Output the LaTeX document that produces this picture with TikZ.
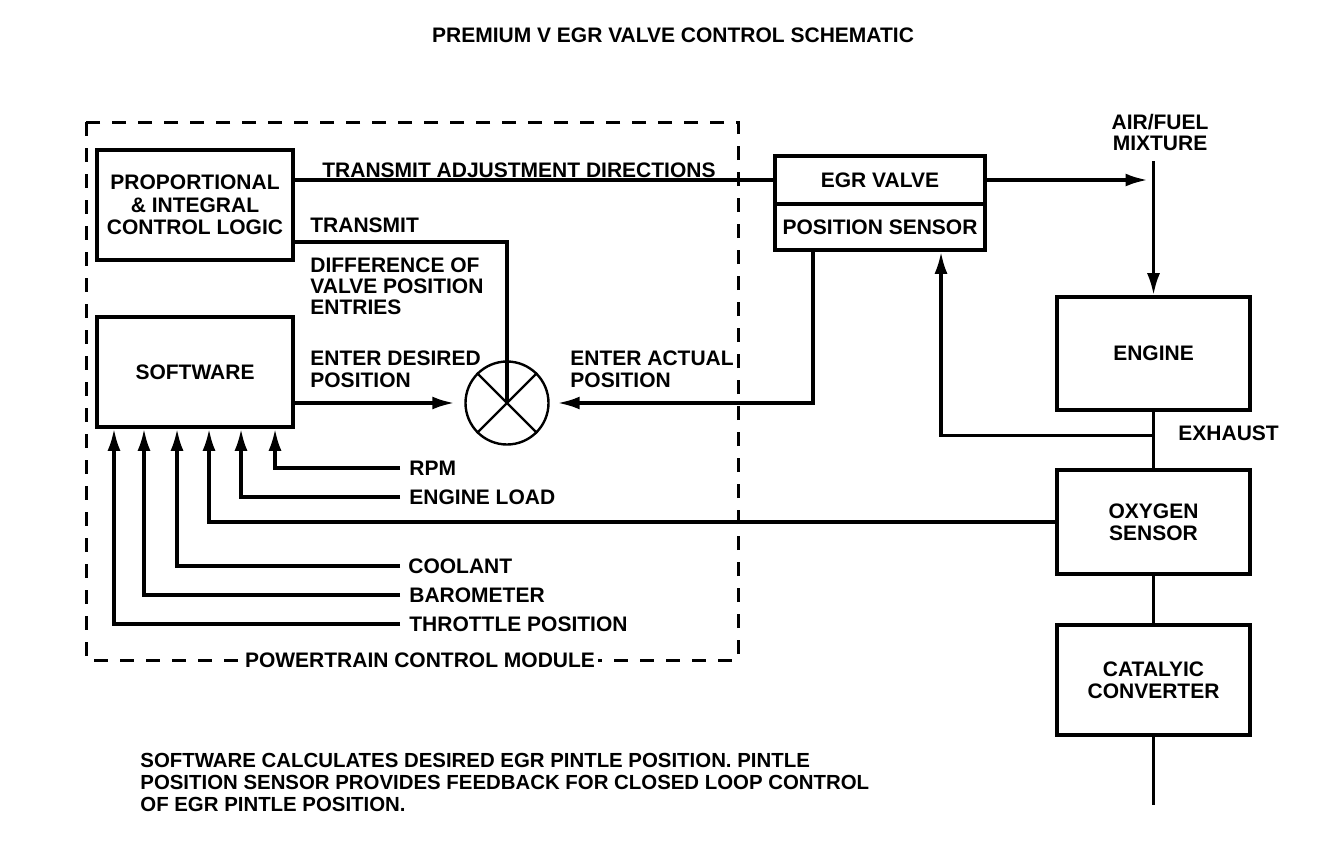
\documentclass[tikz,border=0pt]{standalone}
\usepackage{fontspec}
\setmainfont{Liberation Sans}
\usetikzlibrary{arrows.meta,calc}
\begin{document}
\begin{tikzpicture}[x=0.5pt,y=-0.5pt,
  font=\fontsize{10.5}{10.5}\selectfont\bfseries,
  box/.style={draw,line width=1.8pt,inner sep=0pt,align=center,font=\fontsize{10.5}{11.2}\selectfont\bfseries},
  wire/.style={line width=1.6pt},
  arr/.style={wire,-{Latex[length=11pt,width=6.5pt]}},
  lbl/.style={inner sep=0pt,anchor=north west,align=left,font=\fontsize{10.5}{10.5}\selectfont\bfseries},
  side/.style={inner sep=0pt,anchor=west},
  pcm/.style={draw,line width=1.5pt,dash pattern=on 7pt off 6pt}]
\fill[white] (0,0) rectangle (1344,842);

\node (title) at (673,35) {PREMIUM V EGR VALVE CONTROL SCHEMATIC};

% powertrain control module boundary
\draw[pcm] (86,122) rectangle (738,660);
\node[fill=white,inner xsep=1.5pt,inner ysep=1pt] (pcmlbl) at (420,660) {POWERTRAIN CONTROL MODULE};

% blocks
\node[box,minimum width=98pt,minimum height=55pt] (pi) at (195,205) {PROPORTIONAL\\\& INTEGRAL\\CONTROL LOGIC};
\node[box,minimum width=98pt,minimum height=55pt] (sw) at (195,372) {SOFTWARE};
\node[draw,circle,line width=1.2pt,minimum size=41.5pt,inner sep=0pt] (sum) at (507,403) {};
\draw[line width=1.2pt] (sum.45) -- (sum.225) (sum.135) -- (sum.315);

\node[box,minimum width=105pt,minimum height=24pt] (egr) at (880,180) {EGR VALVE};
\node[box,minimum width=105pt,minimum height=23pt] (pos) at (880,227) {POSITION SENSOR};

\node[box,minimum width=96.5pt,minimum height=56.5pt] (eng) at (1153.5,353.5) {ENGINE};
\node[box,minimum width=96.5pt,minimum height=52pt] (oxy) at (1153.5,522) {OXYGEN\\SENSOR};
\node[box,minimum width=96.5pt,minimum height=55pt] (cat) at (1153.5,680) {CATALYIC\\CONVERTER};

% labels
\node[lbl] (tad) at (322,162) {TRANSMIT ADJUSTMENT DIRECTIONS};
\node[lbl] (tr) at (310,217) {TRANSMIT};
\node[lbl] (diff) at (310,257) {DIFFERENCE OF\\VALVE POSITION\\ENTRIES};
\node[lbl,font=\fontsize{10.5}{11}\selectfont\bfseries] (edp) at (310,350) {ENTER DESIRED\\POSITION};
\node[lbl,font=\fontsize{10.5}{11}\selectfont\bfseries] (eap) at (570,350) {ENTER ACTUAL\\POSITION};
\node[inner sep=0pt,anchor=north,align=center] (af) at (1160,114) {AIR/FUEL\\MIXTURE};
\node[side] (exh) at (1178,433) {EXHAUST};

\node[side] (rpm) at (409,468) {RPM};
\node[side] (load) at (409,497) {ENGINE LOAD};
\node[side] (cool) at (408,566) {COOLANT};
\node[side] (baro) at (409,595) {BAROMETER};
\node[side] (thr) at (409,624) {THROTTLE POSITION};

\node[lbl,font=\fontsize{10.2}{11}\selectfont\bfseries] (note) at (140,753)
  {SOFTWARE CALCULATES DESIRED EGR PINTLE POSITION. PINTLE\\POSITION SENSOR PROVIDES FEEDBACK FOR CLOSED LOOP CONTROL\\OF EGR PINTLE POSITION.};

% software input positions
\coordinate (i1) at (114,0);
\coordinate (i2) at (144,0);
\coordinate (i3) at (177,0);
\coordinate (i4) at (209,0);
\coordinate (i5) at (241,0);
\coordinate (i6) at (275,0);

\draw[arr] ([xshift=-4.5pt]rpm.west) -| (sw.south -| i6);
\draw[arr] ([xshift=-4.5pt]load.west) -| (sw.south -| i5);
\draw[arr] (oxy.west) -| (sw.south -| i4);
\draw[arr] ([xshift=-4pt]cool.west) -| (sw.south -| i3);
\draw[arr] ([xshift=-4.5pt]baro.west) -| (sw.south -| i2);
\draw[arr] ([xshift=-4.5pt]thr.west) -| (sw.south -| i1);

% control connections
\draw[wire] (pi.east |- egr.west) -- (egr.west);
\coordinate (tc) at (507,242);
\draw[wire] (pi.east |- tc) -- (tc) -- (sum.center);
\draw[arr,shorten >=5pt] (sw.east |- sum.west) -- (sum.west);

\coordinate (pd) at (813,0);
\draw[arr,shorten >=4pt] (pos.south -| pd) |- (sum.east);

% engine side
\draw[arr,shorten >=3pt] (egr.east) -- (eng.north |- egr.east);
\draw[arr,shorten <=5pt] (eng.north |- af.south) -- (eng.north);
\draw[wire] (eng.south) -- (oxy.north);
\coordinate (exj) at ($(eng.south)!0.42!(oxy.north)$);
\coordinate (pj) at (941,0);
\draw[arr] (exj) -| (pos.south -| pj);
\draw[wire] (oxy.south) -- (cat.north);
\coordinate (tail) at (1153.5,805);
\draw[wire] (cat.south) -- (tail);
\end{tikzpicture}
\end{document}
